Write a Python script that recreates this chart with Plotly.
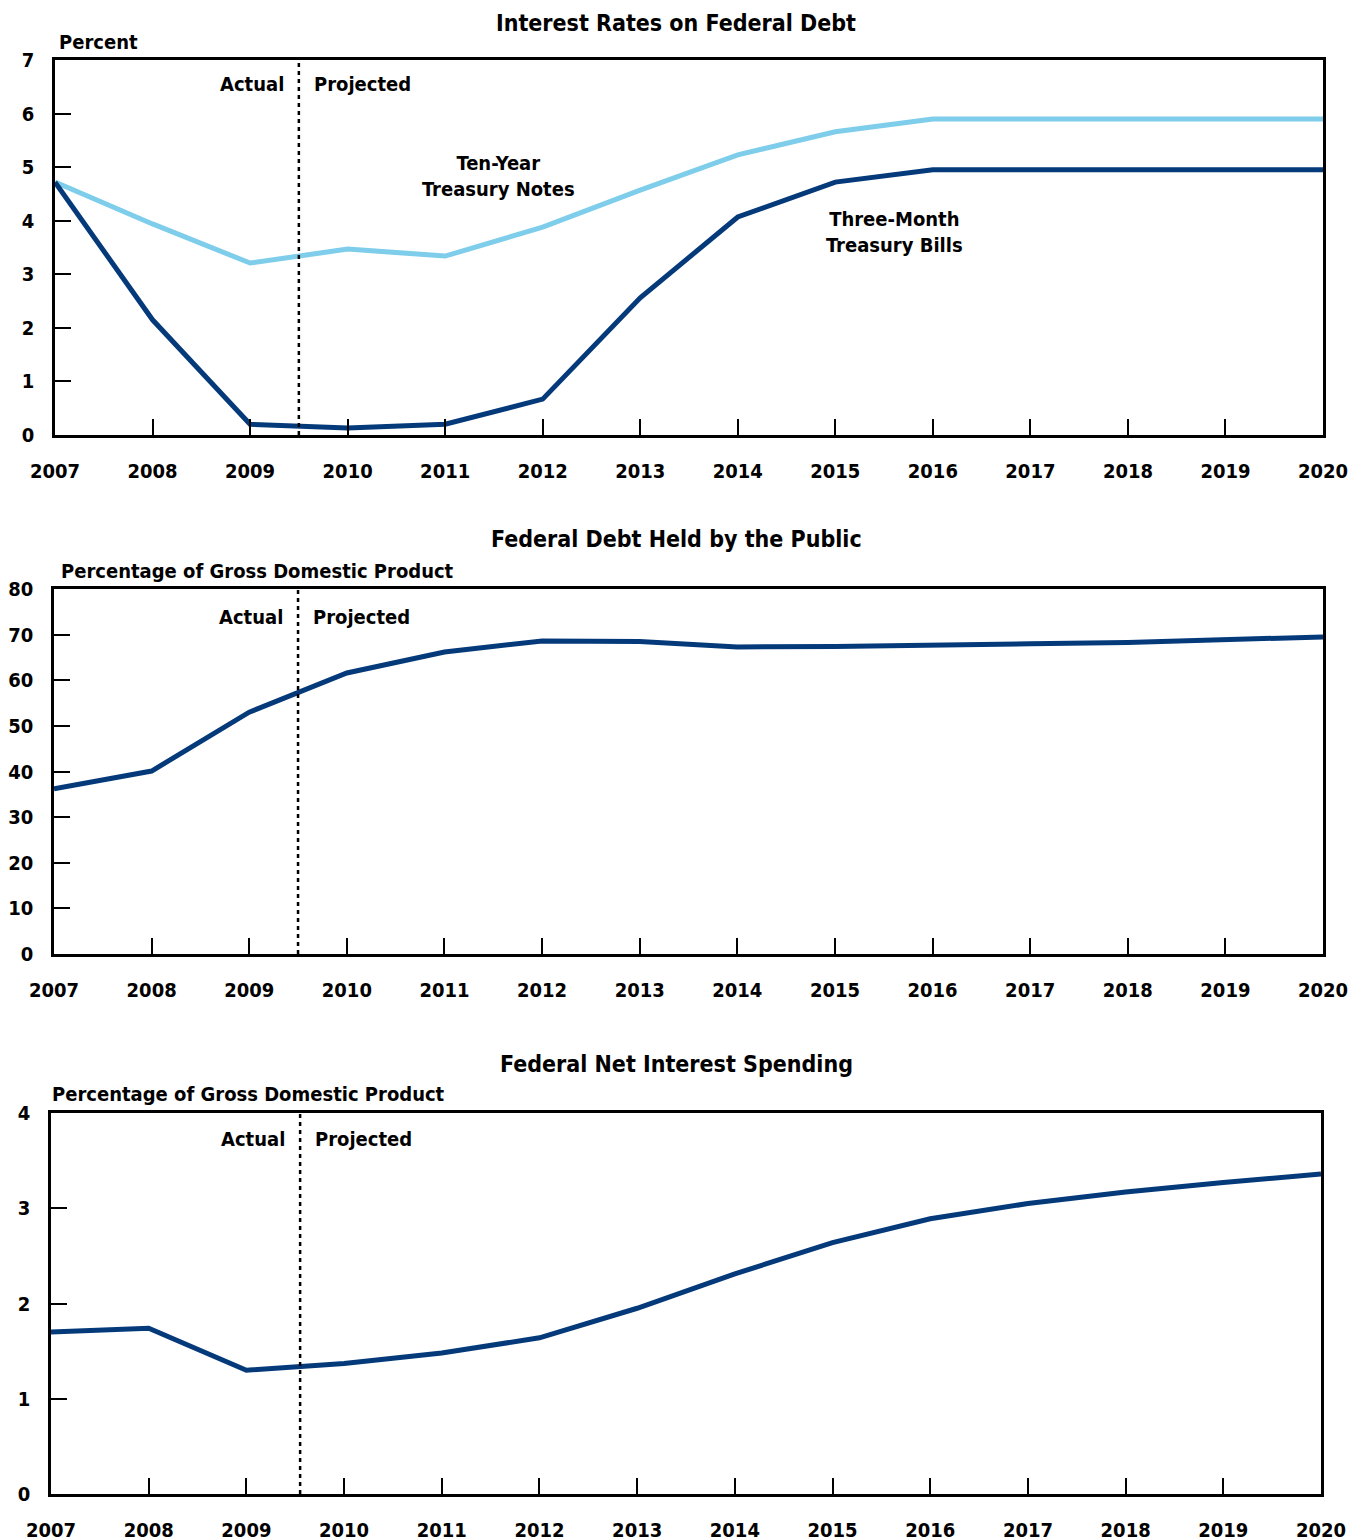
import plotly.graph_objects as go

years = list(range(2007, 2021))
ten_year_notes = [4.72, 3.94, 3.21, 3.47, 3.34, 3.88, 4.57, 5.23, 5.66, 5.90, 5.90, 5.90, 5.90, 5.90]
three_month_bills = [4.72, 2.15, 0.20, 0.13, 0.20, 0.67, 2.56, 4.07, 4.72, 4.95, 4.95, 4.95, 4.95, 4.95]
debt_held_by_public = [36.2, 40.1, 53.0, 61.6, 66.2, 68.6, 68.5, 67.3, 67.4, 67.8, 68.0, 68.3, 68.8, 69.5]
net_interest = [1.70, 1.74, 1.30, 1.37, 1.48, 1.64, 1.95, 2.31, 2.64, 2.89, 3.05, 3.17, 3.27, 3.36]
split_years = [2009.5, 2009.5, 2009.55]

titles = ["Interest Rates on Federal Debt", "Federal Debt Held by the Public", "Federal Net Interest Spending"]
units = ["Percent", "Percentage of Gross Domestic Product", "Percentage of Gross Domestic Product"]
y_ticks = [list(range(0, 8)), list(range(0, 81, 10)), list(range(0, 5))]

DARK = "#053A7A"
LIGHT = "#7ECDEA"
FONT = "Liberation Sans Narrow, DejaVu Sans Condensed, Arial Narrow, sans-serif"
W, H = 1364, 1540
OFF = 8  # page body margin

def px(p):
    return (p - OFF) / W

def py(p):
    return 1 - (p - OFF) / H

# pixel boxes in the page: (left, right, top, bottom)
boxes = [(55, 1323, 60, 435), (54, 1323, 589, 954), (51, 1321, 1113, 1494)]

fig = go.Figure()

fig.add_trace(go.Scatter(x=years, y=ten_year_notes, mode="lines", line=dict(color=LIGHT, width=5),
                         xaxis="x", yaxis="y", showlegend=False, hoverinfo="skip"))
fig.add_trace(go.Scatter(x=years, y=three_month_bills, mode="lines", line=dict(color=DARK, width=5),
                         xaxis="x", yaxis="y", showlegend=False, hoverinfo="skip"))
fig.add_trace(go.Scatter(x=years, y=debt_held_by_public, mode="lines", line=dict(color=DARK, width=5),
                         xaxis="x2", yaxis="y2", showlegend=False, hoverinfo="skip"))
fig.add_trace(go.Scatter(x=years, y=net_interest, mode="lines", line=dict(color=DARK, width=5),
                         xaxis="x3", yaxis="y3", showlegend=False, hoverinfo="skip"))

layout = dict(width=W, height=H, margin=dict(l=0, r=0, t=0, b=0, autoexpand=False),
              template="none",
              paper_bgcolor="white", plot_bgcolor="white",
              font=dict(family=FONT, size=20, color="black"))

annotations = []
shapes = []
for i, (l, r, t, b) in enumerate(boxes):
    sfx = "" if i == 0 else str(i + 1)
    yt = y_ticks[i]
    split_year = split_years[i]
    layout["xaxis" + sfx] = dict(
        domain=[px(l), px(r)], range=[2007, 2020], anchor="y" + sfx,
        tickvals=years, ticktext=[str(y) for y in years],
        ticks="inside", ticklen=16, tickwidth=1.5, tickcolor="black",
        showline=True, linecolor="black", linewidth=2.5, mirror=True,
        showgrid=False, zeroline=False, ticklabelstandoff=16, automargin=False,
        tickfont=dict(family=FONT, size=20, color="black", weight="bold"),
        fixedrange=True,
    )
    layout["yaxis" + sfx] = dict(
        domain=[py(b), py(t)], range=[yt[0], yt[-1]], anchor="x" + sfx,
        tickvals=yt, ticks="inside", ticklen=16, tickwidth=1.5, tickcolor="black",
        showline=True, linecolor="black", linewidth=2.5, mirror=True,
        showgrid=False, zeroline=False, ticklabelstandoff=14, automargin=False,
        tickfont=dict(family=FONT, size=20, color="black", weight="bold"),
        fixedrange=True,
    )
    # divider between actual and projected
    shapes.append(dict(type="line", xref="x" + sfx, yref="y" + sfx + " domain",
                       x0=split_year, x1=split_year, y0=0, y1=1,
                       line=dict(color="black", width=2.5, dash="4px,4px")))
    # title
    if i == 0:
        annotations.append(dict(text="<b>" + titles[i] + "</b>", xref="paper", yref="paper",
                                x=px(676), y=1, xanchor="center", yanchor="top",
                                showarrow=False, font=dict(family=FONT, size=23, color="black")))
    else:
        ty = [18, 539, 1064][i]
        annotations.append(dict(text="<b>" + titles[i] + "</b>", xref="paper", yref="paper",
                                x=px(676), y=py(ty), xanchor="center", yanchor="middle",
                                showarrow=False, font=dict(family=FONT, size=23, color="black")))
    # unit label
    ux, uy = [(57, 42), (59, 571), (50, 1094)][i]
    annotations.append(dict(text=units[i], xref="paper", yref="paper",
                            x=px(ux), y=py(uy), xanchor="left", yanchor="middle",
                            showarrow=False, font=dict(family=FONT, size=20, color="black", weight="bold")))
    ay = [84, 617, 1139][i]
    annotations.append(dict(text="Actual", xref="x" + sfx, yref="paper", x=split_year, y=py(ay),
                            xanchor="right", yanchor="middle", xshift=-13, showarrow=False,
                            font=dict(family=FONT, size=20, color="black", weight="bold")))
    annotations.append(dict(text="Projected", xref="x" + sfx, yref="paper", x=split_year, y=py(ay),
                            xanchor="left", yanchor="middle", xshift=13, showarrow=False,
                            font=dict(family=FONT, size=20, color="black", weight="bold")))

annotations.append(dict(text="Ten-Year<br>Treasury Notes", xref="paper", yref="paper",
                        x=px(498), y=py(176), xanchor="center", yanchor="middle", showarrow=False,
                        font=dict(family=FONT, size=20, color="black", weight="bold")))
annotations.append(dict(text="Three-Month<br>Treasury Bills", xref="paper", yref="paper",
                        x=px(894), y=py(232), xanchor="center", yanchor="middle", showarrow=False,
                        font=dict(family=FONT, size=20, color="black", weight="bold")))

layout["annotations"] = annotations
layout["shapes"] = shapes
fig.update_layout(**layout)
fig.write_html("out.html")
